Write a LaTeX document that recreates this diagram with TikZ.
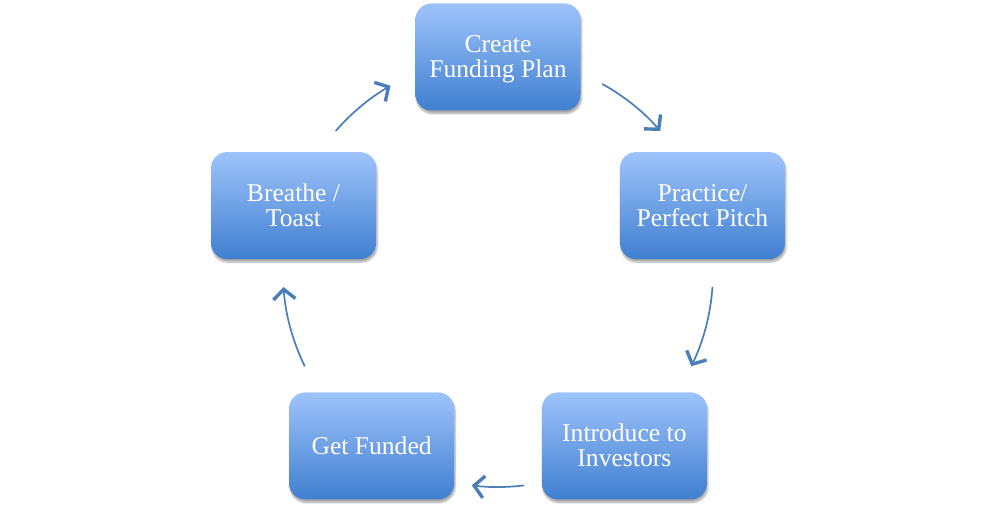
\documentclass[tikz,border=0pt]{standalone}
\usepackage{fontspec}
\setmainfont{Liberation Serif}
\usetikzlibrary{calc}
\usetikzlibrary{arrows.meta}
\usetikzlibrary{shadows.blur}
\definecolor{boxtop}{RGB}{158,195,251}
\definecolor{boxbottom}{RGB}{64,127,208}
\definecolor{arrowblue}{RGB}{74,126,187}
\tikzset{
  stagebox/.style={rounded corners=16pt, minimum width=165pt, minimum height=107pt,
    top color=boxtop, bottom color=boxbottom, draw=none, text=white, align=center,
    font=\fontsize{25.6}{25}\selectfont, text height=17pt, text depth=0pt,
    blur shadow={shadow xshift=1pt, shadow yshift=-3pt, shadow blur steps=8, shadow opacity=35}},
  twolines/.style={text height=42pt},
  cyclearrow/.style={arrowblue, line width=1.7pt,
    -{Straight Barb[length=10pt, width=22pt, line width=3.4pt]}}
}

\begin{document}
\begin{tikzpicture}[x=1pt, y=1pt]
  \useasboundingbox (0,0) rectangle (996,511);
  \coordinate (centre) at (498,239);

  \node [stagebox, twolines] (plan) at ($(centre)+(90:215)$) {Create\\Funding Plan};
  \node [stagebox, twolines] (pitch) at ($(centre)+(18:215)$) {Practice/\\Perfect Pitch};
  \node [stagebox, twolines] (investors) at ($(centre)+(-54:215)$) {Introduce to\\Investors};
  \node [stagebox] (funded) at ($(centre)+(-126:215)$) {Get Funded};
  \node [stagebox, twolines] (breathe) at ($(centre)+(162:215)$) {Breathe /\\Toast};

  % arcs on the cycle between the boxes
  \foreach \from/\to [count=\i] in {61/41, -4/-26, -83/-97, 206/184, 139/120} {
    \coordinate (arc\i) at ($(centre)+(\from:215)$);
    \draw [cyclearrow] (arc\i) arc [start angle=\from, end angle=\to, radius=215];
  }
\end{tikzpicture}
\end{document}
